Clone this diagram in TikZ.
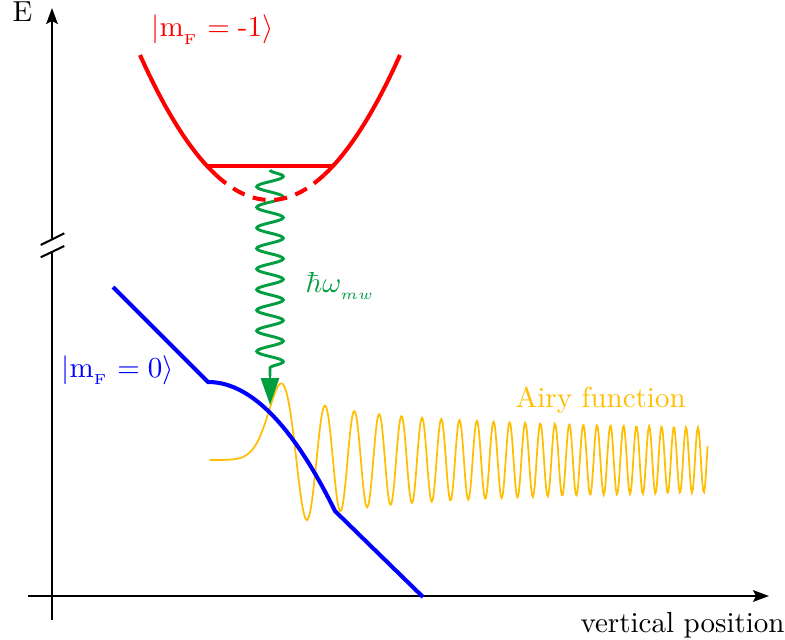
\documentclass[tikz,border=0pt]{standalone}
\usetikzlibrary{arrows.meta,decorations.pathmorphing}
\definecolor{myred}{RGB}{255,0,0}
\definecolor{myblue}{RGB}{0,0,255}
\definecolor{mygreen}{RGB}{0,158,65}
\definecolor{myyellow}{RGB}{255,190,0}
\begin{document}
\begin{tikzpicture}[x=0.345pt,y=-0.345pt,
  axis/.style={line width=0.7pt,black},
  axtip/.style={-{Stealth[length=5.5pt,width=4pt,inset=1pt]}},
  lbl/.style={inner sep=0pt,anchor=base west},
  level/.style={line width=1.4pt},
  photon/.style={mygreen,line width=1pt},
  declare function={
    fS(\u)=1+(\u)/6*(1+(\u)/30*(1+(\u)/72*(1+(\u)/132*(1+(\u)/210*(1+(\u)/306*(1+(\u)/420*(1+(\u)/552*(1+(\u)/702))))))));
    gS(\u)=1+(\u)/12*(1+(\u)/42*(1+(\u)/90*(1+(\u)/156*(1+(\u)/240*(1+(\u)/342*(1+(\u)/462*(1+(\u)/600)))))));
    aiS(\x)=0.355028*fS((\x)*(\x)*(\x))-0.258819*(\x)*gS((\x)*(\x)*(\x));
    aiD(\t)=exp(-0.666667*(\t)*sqrt(\t))*0.282095/sqrt(sqrt(\t))*(1-0.104167/((\t)*sqrt(\t)));
    aiO(\z)=0.564190/sqrt(sqrt(\z))*(sin(deg(0.666667*(\z)*sqrt(\z)+0.785398))*(1-0.187988/(\z)/(\z)/(\z))-cos(deg(0.666667*(\z)*sqrt(\z)+0.785398))*0.104167/((\z)*sqrt(\z)));
  }]
\useasboundingbox (0,0) rectangle (785,639);

% axes
\coordinate (yb) at (52,620);
\coordinate (ybr1) at (52,251.5);
\coordinate (ybr2) at (52,239);
\coordinate (yt) at (52,8);
\coordinate (xl) at (28,596);
\coordinate (xr) at (769,596);
\draw[axis] (yb) -- (ybr1);
\draw[axis,axtip] (ybr2) -- (yt);
\coordinate (s1a) at (40.7,245);
\coordinate (s1b) at (64.3,233.3);
\coordinate (s2a) at (40.7,257.3);
\coordinate (s2b) at (64.3,246);
\draw[axis] (s1a) -- (s1b);
\draw[axis] (s2a) -- (s2b);
\draw[axis,axtip] (xl) -- (xr);
\node[lbl] (E) at (12,22) {E};
\node[lbl] (xlabel) at (580,632) {vertical position};

% Airy function
\draw[myyellow,line width=0.6pt]
  plot[domain=5.2:2.5,samples=25,variable=\t] ({269.5-11.5*\t},{460-143*aiD(\t)})
  -- plot[domain=2.5:-3.25,samples=80,variable=\t] ({269.5-11.5*\t},{460-143*aiS(\t)})
  -- plot[domain=3.25:38.1,samples=460,variable=\z] ({269.5+11.5*\z},{460-143*aiO(\z)});
\node[lbl,text=myyellow] (airy) at (515,407) {Airy function};

% microwave photon
\coordinate (wtop) at (270,170);
\coordinate (wbase) at (270,376);
\coordinate (wtip) at (270,405);
\draw[photon,decorate,
  decoration={snake,amplitude=4.6pt,segment length=7.1pt}] (wtop) -- (wbase);
\draw[photon,-{Triangle[length=9.3pt,width=6.2pt]}] (wbase) -- (wtip);
\node[lbl,text=mygreen] (hw) at (305,292) {$\hbar\omega_{_{mw}}$};

% mF = 0 level
\coordinate (b0) at (113,287);
\coordinate (b1) at (208,382);
\coordinate (b3) at (423,597);
\draw[level,myblue,line join=miter] (b0) -- (b1)
  -- plot[domain=208:335,samples=60] (\x,{382+0.8*((\x-208)/10)^2}) -- (b3);
\node[lbl,text=myblue] (m0) at (61,377) {$|\mathrm{m}_{_\mathrm{F}} = 0\rangle$};

% mF = -1 level
\draw[level,myred] plot[domain=140:216,samples=40] (\x,{200-0.858*((\x-270)/10)^2});
\draw[level,myred] plot[domain=324:400,samples=40] (\x,{200-0.858*((\x-270)/10)^2});
\draw[level,myred,dash pattern=on 4.5pt off 3pt] plot[domain=216:324,samples=50] (\x,{200-0.858*((\x-270)/10)^2});
\coordinate (h1) at (207,166);
\coordinate (h2) at (333,166);
\draw[level,myred] (h1) -- (h2);
\node[lbl,text=myred] (m1) at (151,37) {$|\mathrm{m}_{_\mathrm{F}} = \mbox{-1}\rangle$};
\end{tikzpicture}
\end{document}
